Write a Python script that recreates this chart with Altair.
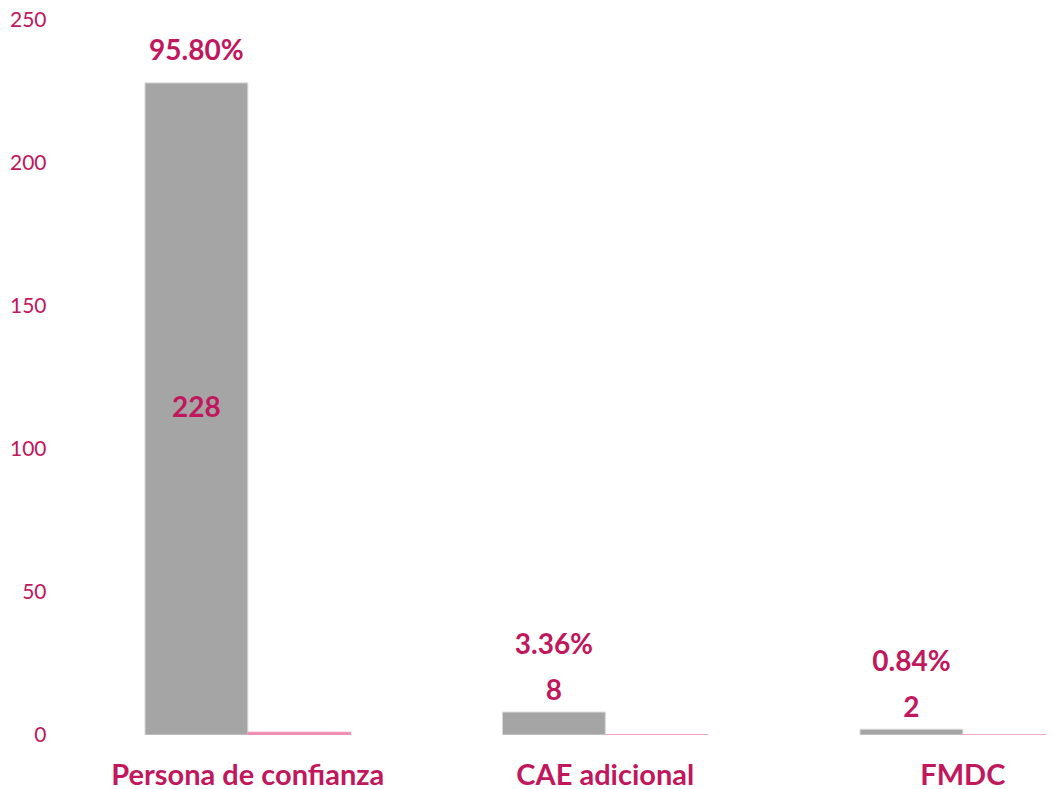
import altair as alt
import pandas as pd

categories = ["Persona de confianza", "CAE adicional", "FMDC"]
counts = [228, 8, 2]
shares = [0.958, 0.0336, 0.0084]
share_labels = ["95.80%", "3.36%", "0.84%"]
series = ["Cantidad", "Porcentaje"]
y_ticks = [0, 50, 100, 150, 200, 250]

MAG = "#C0175D"
GRAY = "#A5A5A5"
PINK = "#F08DB4"
FONT = "Lato"

bars = pd.DataFrame(
    [{"cat": c, "series": series[0], "value": v} for c, v in zip(categories, counts)]
    + [{"cat": c, "series": series[1], "value": v} for c, v in zip(categories, shares)]
)
labels = pd.DataFrame({
    "cat": categories,
    "series": series[0],
    "count": counts,
    "half": [c / 2 for c in counts],
    "count_txt": [str(c) for c in counts],
    "pct_txt": share_labels,
})

x_enc = alt.X(
    "cat:N", sort=categories, title=None,
    scale=alt.Scale(range=[85, 1005.6], paddingInner=0.425, paddingOuter=0),
    axis=alt.Axis(labelAngle=0, ticks=False, domain=False, labelFont=FONT,
                  labelFontSize=29, labelFontWeight="bold", labelColor=MAG,
                  labelPadding=40, labelBaseline="middle", labelLimit=0),
)
xoff = alt.XOffset("series:N", sort=series,
                   scale=alt.Scale(domain=series, paddingInner=0, paddingOuter=0))
y_scale = alt.Scale(domain=[0, 250], nice=False)
y_enc = alt.Y(
    "value:Q", scale=y_scale, title=None,
    axis=alt.Axis(values=y_ticks, grid=False, ticks=False, domain=False,
                  labelFont=FONT, labelFontSize=21, labelColor=MAG, labelPadding=14),
)

bar_layer = alt.Chart(bars).mark_bar(clip=True, strokeWidth=1).encode(
    x=x_enc,
    xOffset=xoff,
    y=y_enc,
    color=alt.Color("series:N", scale=alt.Scale(domain=series, range=[GRAY, PINK]), legend=None),
    stroke=alt.Stroke("series:N", scale=alt.Scale(domain=series, range=["#D6D6D6", PINK]), legend=None),
)

txt = dict(font=FONT, fontSize=28, fontWeight="bold", color=MAG, baseline="middle")
base = alt.Chart(labels).encode(x=alt.X("cat:N", sort=categories), xOffset=alt.XOffset("series:N"))

count_in = base.transform_filter("datum.count >= 50").mark_text(**txt).encode(
    y=alt.Y("half:Q", scale=y_scale), text="count_txt:N")
count_out = base.transform_filter("datum.count < 50").mark_text(dy=-20, **txt).encode(
    y=alt.Y("count:Q", scale=y_scale), text="count_txt:N")
pct_hi = base.transform_filter("datum.count >= 50").mark_text(dy=-31, **txt).encode(
    y=alt.Y("count:Q", scale=y_scale), text="pct_txt:N")
pct_lo = base.transform_filter("datum.count < 50").mark_text(dy=-66, **txt).encode(
    y=alt.Y("count:Q", scale=y_scale), text="pct_txt:N")

chart = alt.layer(bar_layer, count_in, count_out, pct_hi, pct_lo).properties(
    width=986, height=715,
    autosize=alt.AutoSizeParams(type="none"),
    padding={"left": 52, "top": 12, "right": 0, "bottom": 54},
).configure(background="white").configure_view(stroke="transparent", strokeWidth=0)

chart.save("out.html", embed_options={"renderer": "svg", "actions": False})
